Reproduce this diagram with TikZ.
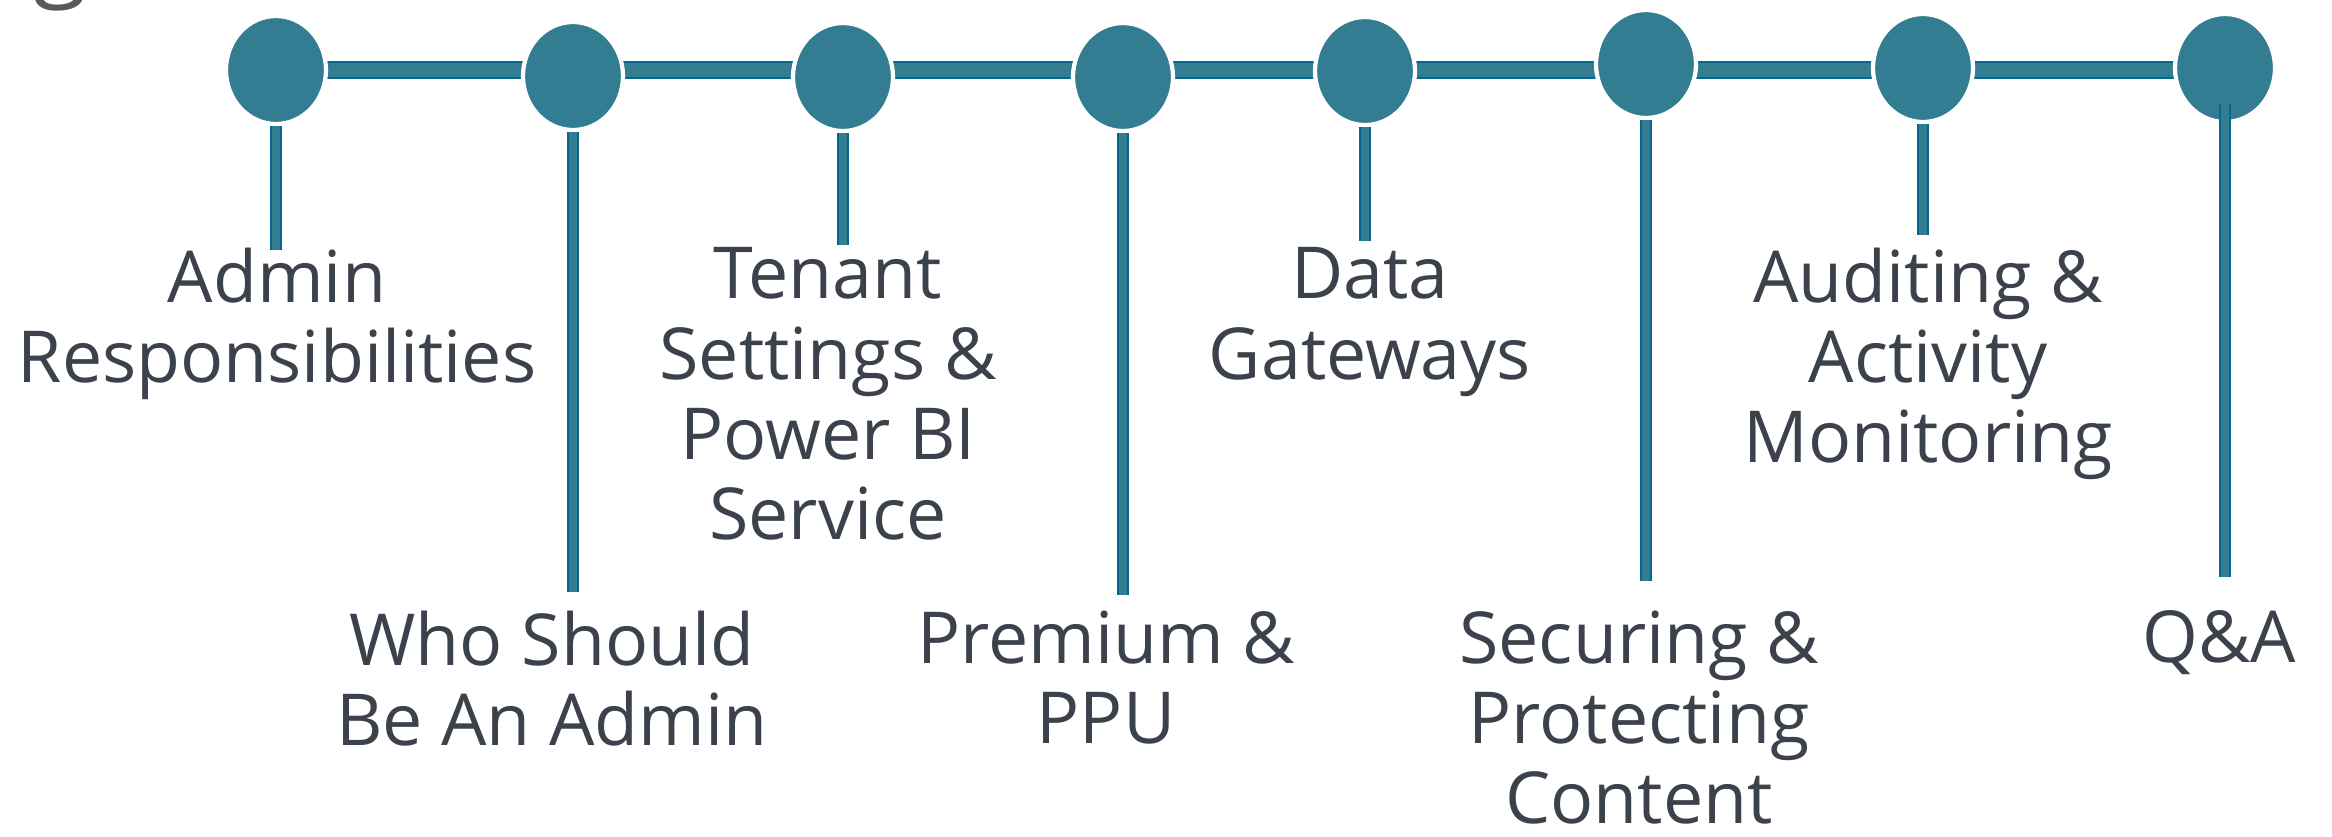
\documentclass[tikz,border=0pt]{standalone}
\usepackage{fontspec}
\setmainfont{Open Sans}
\usepackage{xcolor}
\usetikzlibrary{shapes.geometric,backgrounds}

\definecolor{dotteal}{HTML}{337D93}
\definecolor{linedark}{HTML}{04698C}
\definecolor{labelgray}{HTML}{3C424B}
\definecolor{titlegray}{HTML}{595959}

\begin{document}
\begin{tikzpicture}[
    dot/.style={ellipse, fill=dotteal, draw=white, line width=1.2pt, minimum width=1.0cm, minimum height=1.08cm, inner sep=0pt},
    bar/.style={draw=linedark, line width=0.02cm, double=dotteal, double distance=0.14cm},
    stem/.style={draw=linedark, line width=0.02cm, double=dotteal, double distance=0.08cm},
    topic/.style={anchor=north, align=center, inner sep=0pt, text=labelgray, font=\fontsize{20.4}{22.8}\selectfont}
]

    \useasboundingbox (0, 0) rectangle (23.32, 8.36);

    % Cut-off title letter at the top
    \node[anchor=base, inner sep=0pt, text=titlegray, font=\fontsize{28}{34}\selectfont] (title) at (0.60, 8.49) {g};

    % Circles along the timeline
    \foreach \i/\x/\y in {1/2.76/7.66, 2/5.73/7.60, 3/8.43/7.59, 4/11.23/7.59, 5/13.65/7.65, 6/16.46/7.72, 7/19.23/7.68, 8/22.25/7.68} {
        \node[dot] (c\i) at (\x, \y) {};
    }

    % Bar behind the circles
    \begin{pgfonlayer}{background}
        \draw[bar] (c1.center) -- (c1.center -| c8.center);
    \end{pgfonlayer}

    % Stems hanging from each circle
    \foreach \i/\y/\s in {1/5.86/0, 2/2.44/0, 3/5.91/0, 4/2.41/0, 5/5.95/0, 6/2.55/0, 7/6.01/0, 8/2.59/-0.2} {
        \coordinate (e\i) at (c\i |- 0, \y);
        \draw[stem, shorten <=\s cm] (c\i) -- (e\i);
    }

    % Topic labels
    \node[topic] (admin) at (2.77, 5.89) {Admin\\Responsibilities};
    \node[topic] (who) at (5.52, 2.26) {Who Should\\Be An Admin};
    \node[topic] (tenant) at (8.28, 5.89) {Tenant\\Settings \&\\Power BI\\Service};
    \node[topic] (premium) at (11.06, 2.26) {Premium \&\\PPU};
    \node[topic] (gateways) at (13.70, 5.89) {Data\\Gateways};
    \node[topic] (securing) at (16.39, 2.26) {Securing \&\\Protecting\\Content};
    \node[topic] (auditing) at (19.28, 5.89) {Auditing \&\\Activity\\Monitoring};
    \node[topic] (qa) at (22.19, 2.26) {Q\&A};

\end{tikzpicture}
\end{document}
